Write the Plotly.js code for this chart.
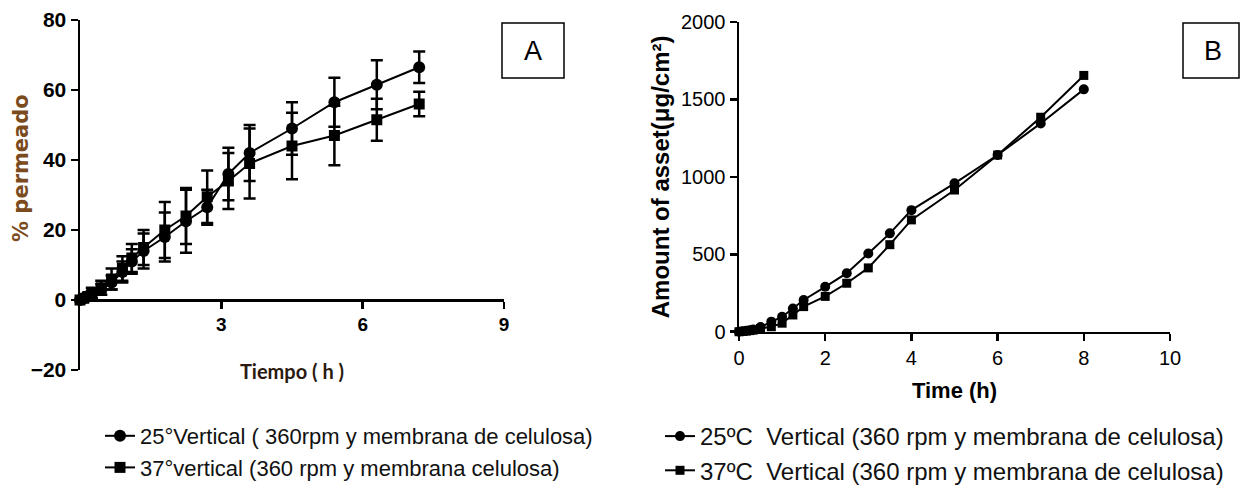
<!DOCTYPE html>
<html>
<head>
<meta charset="utf-8">
<script src="https://cdn.plot.ly/plotly-3.0.1.min.js"></script>
<style>html,body{margin:0;padding:0;background:#fff;}#chart{width:1240px;height:496px;}</style>
</head>
<body>
<div id="chart"></div>
<script>
// Panel A: % permeado vs Tiempo (h)
const timeA = [0, 0.08, 0.17, 0.25, 0.45, 0.67, 0.9, 1.1, 1.35, 1.8, 2.25, 2.7, 3.15, 3.6, 4.5, 5.4, 6.3, 7.2];
const perm25 = [0, 0.5, 1, 1.5, 3, 5, 8, 11, 14, 18, 22.5, 26.5, 36, 42, 49, 56.5, 61.5, 66.5];
const perm25Err = [0.5, 0.5, 1, 1, 1.5, 2, 3, 3.5, 5, 7, 9, 5, 7.5, 8, 7.5, 7, 7, 4.5];
const perm37 = [0, 0.5, 1, 2, 3.5, 6, 9, 12, 15, 20, 24, 29.5, 34, 39, 44, 47, 51.5, 56];
const perm37Err = [0.5, 0.5, 1, 1.5, 2, 3, 3.5, 4, 5, 8, 8, 7.5, 8, 10, 9.5, 8.5, 6, 3.5];
const legendA = ["25°Vertical ( 360rpm y membrana de celulosa)", "37°vertical (360 rpm y membrana celulosa)"];
const titleA = {x: "Tiempo ( h )", y: "% permeado", box: "A"};

// Panel B: Amount of asset vs Time (h)
const timeB = [0, 0.08, 0.17, 0.25, 0.33, 0.5, 0.75, 1, 1.25, 1.5, 2, 2.5, 3, 3.5, 4, 5, 6, 7, 8];
const amount25 = [0, 3, 6, 10, 14, 30, 65, 97, 150, 205, 290, 378, 505, 635, 785, 958, 1141, 1345, 1565];
const amount37 = [0, 2, 4, 7, 10, 20, 32, 55, 108, 162, 228, 313, 412, 562, 722, 915, 1141, 1385, 1655];
const legendB = ["25ºC  Vertical (360 rpm y membrana de celulosa)", "37ºC  Vertical (360 rpm y membrana de celulosa)"];
const titleB = {x: "Time (h)", y: "Amount of asset(μg/cm²)", box: "B"};

const W = 1240, H = 496;
const px = v => v / W;
const py = v => (H - v) / H;

const arial = "Liberation Sans, Arial, sans-serif";

function errs(arr){ return {type:'data', array:arr, visible:true, color:'#000', thickness:2.5, width:6}; }

const traces = [
  {x: timeA, y: perm25, name: legendA[0], type:'scatter', mode:'lines+markers', xaxis:'x', yaxis:'y', legend:'legend',
   line:{color:'#000', width:2}, marker:{symbol:'circle', size:12, color:'#000'}, error_y: errs(perm25Err), cliponaxis:false},
  {x: timeA, y: perm37, name: legendA[1], type:'scatter', mode:'lines+markers', xaxis:'x', yaxis:'y', legend:'legend',
   line:{color:'#000', width:2}, marker:{symbol:'square', size:11, color:'#000'}, error_y: errs(perm37Err), cliponaxis:false},
  {x: timeB, y: amount25, name: legendB[0], type:'scatter', mode:'lines+markers', xaxis:'x2', yaxis:'y2', legend:'legend2',
   line:{color:'#000', width:2}, marker:{symbol:'circle', size:10, color:'#000'}, cliponaxis:false},
  {x: timeB, y: amount37, name: legendB[1], type:'scatter', mode:'lines+markers', xaxis:'x2', yaxis:'y2', legend:'legend2',
   line:{color:'#000', width:2}, marker:{symbol:'square', size:9, color:'#000'}, cliponaxis:false}
];

const layout = {
  width: W, height: H,
  margin: {l:0, r:0, t:0, b:0},
  paper_bgcolor: '#fff', plot_bgcolor: 'rgba(0,0,0,0)',
  showlegend: true,
  xaxis: {
    domain: [px(80), px(504)], range: [0, 9], anchor: 'free', position: py(300),
    tickvals: [3, 6, 9], ticks: 'outside', ticklen: 7, tickwidth: 2.5, tickcolor: '#000',
    showline: true, linewidth: 2.5, linecolor: '#000', showgrid: false, zeroline: false,
    tickfont: {family: arial, size: 19, color: '#000', weight: 'bold'},
    title: {text: titleA.x, standoff: 30, font: {family: "Lato, Open Sans, sans-serif", size: 20, color: '#2a1a10', weight: 'bold'}}
  },
  yaxis: {
    domain: [py(370), py(20)], range: [-20, 80], anchor: 'x',
    tickvals: [-20, 0, 20, 40, 60, 80], ticks: 'outside', ticklen: 7, tickwidth: 2.5, tickcolor: '#000',
    showline: true, linewidth: 2.5, linecolor: '#000', showgrid: false, zeroline: false,
    tickfont: {family: arial, size: 21, color: '#000', weight: 'bold'}
  },
  xaxis2: {
    domain: [px(739), px(1170)], range: [0, 10], anchor: 'y2',
    tickvals: [0, 2, 4, 6, 8, 10], ticks: 'outside', ticklen: 7, tickwidth: 2.5, tickcolor: '#000',
    showline: true, linewidth: 2.5, linecolor: '#000', showgrid: false, zeroline: false,
    tickfont: {family: arial, size: 20, color: '#000'},
    title: {text: titleB.x, standoff: 15, font: {family: arial, size: 22, color: '#000', weight: 'bold'}}
  },
  yaxis2: {
    domain: [py(331.7), py(22)], range: [0, 2000], anchor: 'x2',
    tickvals: [0, 500, 1000, 1500, 2000], ticks: 'outside', ticklen: 7, tickwidth: 2.5, tickcolor: '#000',
    showline: true, linewidth: 2.5, linecolor: '#000', showgrid: false, zeroline: false,
    tickfont: {family: arial, size: 20, color: '#000'},
    title: {text: titleB.y, standoff: 5, font: {family: arial, size: 24, color: '#000', weight: 'bold'}}
  },
  legend: {
    x: px(100), y: py(415), xanchor: 'left', yanchor: 'top', bgcolor: 'rgba(0,0,0,0)',
    font: {family: arial, size: 22, color: '#111'}, tracegroupgap: 0, itemwidth: 30
  },
  legend2: {
    x: px(660), y: py(414), xanchor: 'left', yanchor: 'top', bgcolor: 'rgba(0,0,0,0)',
    font: {family: arial, size: 24, color: '#111'}, tracegroupgap: 0, itemwidth: 30
  },
  shapes: [
    {type: 'rect', xref: 'paper', yref: 'paper', x0: px(502), x1: px(564), y0: py(78), y1: py(23), line: {color: '#000', width: 1.5}, fillcolor: 'rgba(0,0,0,0)'},
    {type: 'rect', xref: 'paper', yref: 'paper', x0: px(1183), x1: px(1239), y0: py(78), y1: py(23), line: {color: '#000', width: 1.5}, fillcolor: 'rgba(0,0,0,0)'}
  ],
  annotations: [
    {text: titleA.y, xref: 'paper', yref: 'paper', x: px(21), y: py(168), xanchor: 'center', yanchor: 'middle', textangle: -90, showarrow: false,
     font: {family: "DejaVu Sans, sans-serif", size: 21, color: '#7B4B1E', weight: 'bold'}},
    {text: titleA.box, xref: 'paper', yref: 'paper', x: px(533), y: py(51), xanchor: 'center', yanchor: 'middle', showarrow: false, font: {family: arial, size: 27, color: '#000'}},
    {text: titleB.box, xref: 'paper', yref: 'paper', x: px(1213), y: py(51), xanchor: 'center', yanchor: 'middle', showarrow: false, font: {family: arial, size: 27, color: '#000'}}
  ]
};

Plotly.newPlot('chart', traces, layout, {staticPlot: true, displayModeBar: false});
</script>
</body>
</html>
